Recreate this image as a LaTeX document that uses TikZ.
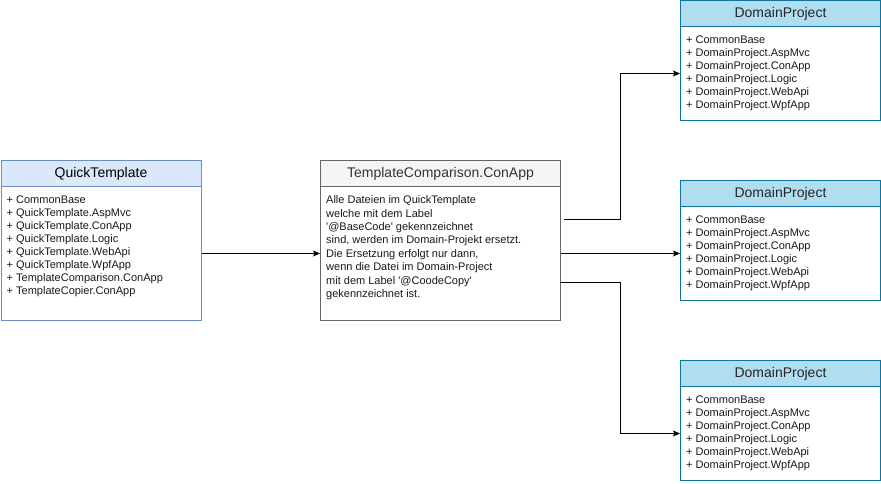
\documentclass[tikz,border=0pt]{standalone}
\usepackage{fontspec}
\setmainfont{Liberation Sans}
\usetikzlibrary{arrows.meta,calc}
\definecolor{qtfill}{HTML}{DAE8FC}
\definecolor{qtline}{HTML}{6C8EBF}
\definecolor{tcfill}{HTML}{F5F5F5}
\definecolor{tcline}{HTML}{666666}
\definecolor{tctext}{HTML}{333333}
\definecolor{dpfill}{HTML}{B1DDF0}
\definecolor{dpline}{HTML}{10739E}
\newcommand{\sq}{\textquotesingle}
\begin{document}
\begin{tikzpicture}[x=1pt,y=-1pt,
  box/.style={draw,line width=1pt,inner sep=0,anchor=north west,minimum width=#1},
  hdr/.style={font=\fontsize{14}{16}\selectfont,minimum height=26pt},
  qth/.style={box=200pt,hdr,fill=qtfill,draw=qtline},
  qtb/.style={box=200pt,minimum height=134pt,fill=white,draw=qtline},
  tch/.style={box=240pt,hdr,fill=tcfill,draw=tcline,text=tctext},
  tcb/.style={box=240pt,minimum height=134pt,fill=white,draw=tcline},
  dph/.style={box=200pt,hdr,fill=dpfill,draw=dpline,text=black!85},
  dpb/.style={box=200pt,minimum height=94pt,fill=white,draw=dpline},
  lst/.style={anchor=north west,align=left,inner sep=0,text=black!90,font=\fontsize{11}{13}\selectfont},
  mid/.style={anchor=north west,align=left,inner sep=0,text=black!90,font=\fontsize{11}{13.4}\selectfont},
  conn/.style={draw=black,line width=1pt,-{Stealth[length=7pt,width=6pt,inset=1.5pt]}}
]
\useasboundingbox (0,0) rectangle (881,484);

% QuickTemplate
\node[qtb] (qtb) at (0.5,186) {};
\node[qth] (qth) at (0.5,160) {QuickTemplate};
\node[lst] (qtt) at ($(qtb.north west)+(6,9.5)$) {+ CommonBase\\+ QuickTemplate.AspMvc\\+ QuickTemplate.ConApp\\+ QuickTemplate.Logic\\+ QuickTemplate.WebApi\\+ QuickTemplate.WpfApp\\+ TemplateComparison.ConApp\\+ TemplateCopier.ConApp};

% TemplateComparison
\node[tcb] (tcb) at (320,186) {};
\node[tch] (tch) at (320,160) {TemplateComparison.ConApp};
\node[mid] (tct) at ($(tcb.north west)+(6,9.5)$) {Alle Dateien im QuickTemplate\\welche mit dem Label\\\sq @BaseCode\sq\ gekennzeichnet\\sind, werden im Domain-Projekt ersetzt.\\Die Ersetzung erfolgt nur dann,\\wenn die Datei im Domain-Project\\mit dem Label \sq @CoodeCopy\sq\\gekennzeichnet ist.};

% DomainProjects
\node[dpb] (dp1b) at (680,26) {};
\node[dph] (dp1h) at (680,0.5) {DomainProject};
\node[lst] (dp1t) at ($(dp1b.north west)+(6,9.5)$) {+ CommonBase\\+ DomainProject.AspMvc\\+ DomainProject.ConApp\\+ DomainProject.Logic\\+ DomainProject.WebApi\\+ DomainProject.WpfApp};

\node[dpb] (dp2b) at (680,206) {};
\node[dph] (dp2h) at (680,180) {DomainProject};
\node[lst] (dp2t) at ($(dp2b.north west)+(6,9.5)$) {+ CommonBase\\+ DomainProject.AspMvc\\+ DomainProject.ConApp\\+ DomainProject.Logic\\+ DomainProject.WebApi\\+ DomainProject.WpfApp};

\node[dpb] (dp3b) at (680,386) {};
\node[dph] (dp3h) at (680,360) {DomainProject};
\node[lst] (dp3t) at ($(dp3b.north west)+(6,9.5)$) {+ CommonBase\\+ DomainProject.AspMvc\\+ DomainProject.ConApp\\+ DomainProject.Logic\\+ DomainProject.WebApi\\+ DomainProject.WpfApp};

% connectors
\draw[conn] (qtb.east) -- (tcb.west);
\draw[conn] (tcb.east) -- (dp2b.west);
\coordinate (s1) at ($(tcb.east)+(3,-34)$);
\coordinate (s3) at ($(tcb.east)+(-1,29)$);
\draw[conn] (s1) -| ($(dp1b.west)+(-60,0)$) -- (dp1b.west);
\draw[conn] (s3) -| ($(dp3b.west)+(-60,0)$) -- (dp3b.west);
\end{tikzpicture}
\end{document}
